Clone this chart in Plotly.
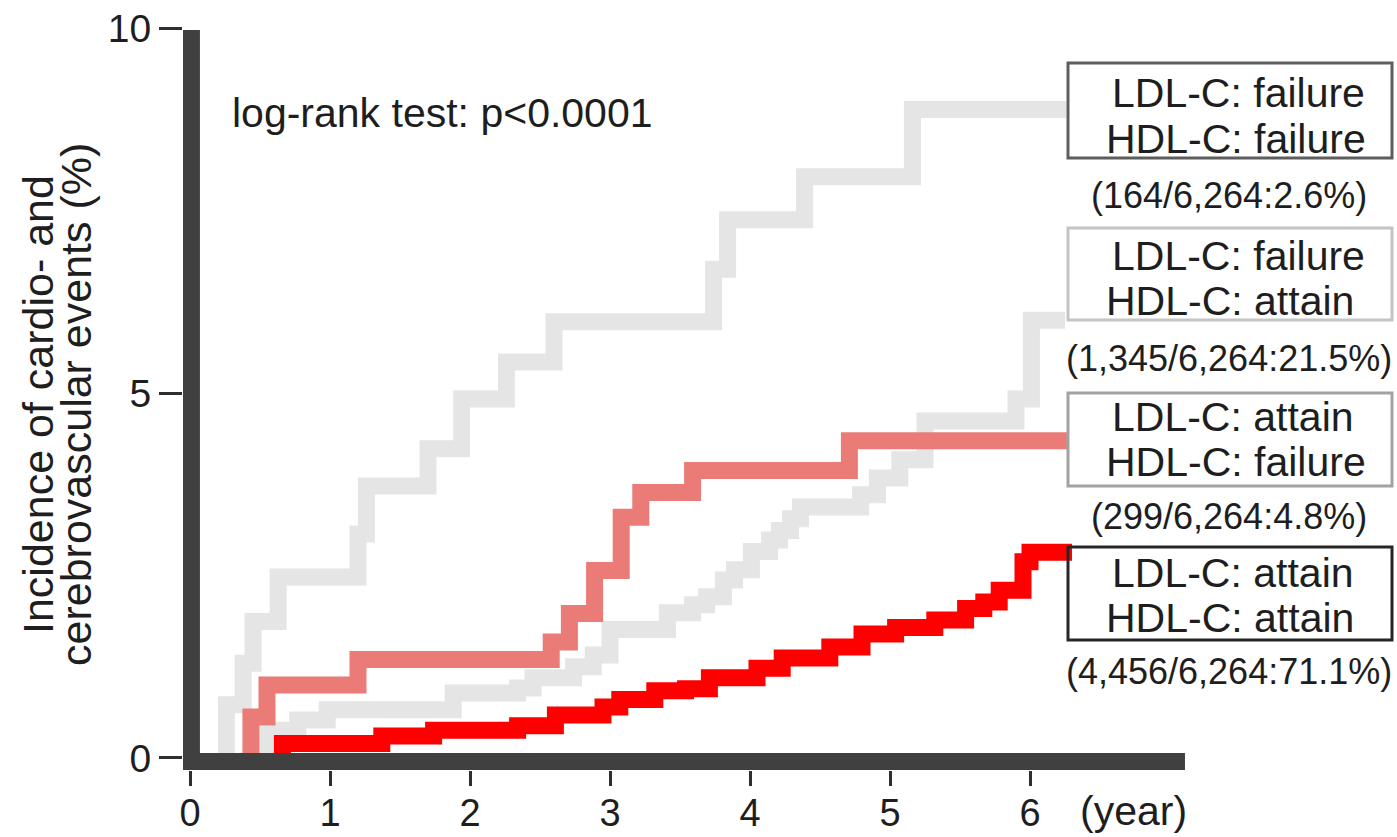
import plotly.graph_objects as go

# Cumulative incidence (%) of cardio- and cerebrovascular events by goal attainment.
# Each group: event times (years), cumulative incidence after each event, last follow-up time.
ff_times = [0.26, 0.38, 0.45, 0.63, 1.20, 1.26, 1.70, 1.94, 2.26, 2.60, 3.74, 3.84, 4.39, 5.16]
ff_inc = [0.73, 1.30, 1.87, 2.48, 3.07, 3.73, 4.24, 4.92, 5.43, 5.98, 6.70, 7.38, 7.97, 8.89]
ff_end = 6.26

fa_times = [0.55, 0.63, 0.77, 0.98, 1.88, 2.34, 2.45, 2.74, 2.88, 3.00, 3.41, 3.59, 3.69,
            3.81, 3.89, 4.01, 4.14, 4.21, 4.29, 4.36, 4.79, 4.91, 5.07, 5.25, 5.90, 6.01]
fa_inc = [0.33, 0.38, 0.52, 0.66, 0.89, 0.96, 1.10, 1.25, 1.41, 1.76, 1.99, 2.10, 2.21,
          2.44, 2.58, 2.83, 2.99, 3.12, 3.28, 3.44, 3.61, 3.84, 4.09, 4.62, 4.92, 6.00]
fa_end = 6.25

af_times = [0.435, 0.55, 1.20, 2.58, 2.71, 2.89, 3.08, 3.22, 3.59, 4.71]
af_inc = [0.56, 1.00, 1.35, 1.59, 1.98, 2.57, 3.30, 3.64, 3.94, 4.35]
af_end = 6.27

aa_times = [0.66, 1.37, 1.74, 2.34, 2.61, 2.95, 3.07, 3.32, 3.54, 3.71, 4.05, 4.23,
            4.57, 4.80, 5.04, 5.32, 5.54, 5.67, 5.78, 5.95, 6.00]
aa_inc = [0.20, 0.30, 0.38, 0.44, 0.59, 0.70, 0.80, 0.92, 0.95, 1.10, 1.23, 1.37,
          1.52, 1.70, 1.79, 1.89, 2.05, 2.14, 2.30, 2.69, 2.82]
aa_end = 6.30

group_lines = [
    ("LDL-C: failure", "HDL-C: failure", "(164/6,264:2.6%)"),
    ("LDL-C: failure", "HDL-C: attain", "(1,345/6,264:21.5%)"),
    ("LDL-C: attain", "HDL-C: failure", "(299/6,264:4.8%)"),
    ("LDL-C: attain", "HDL-C: attain", "(4,456/6,264:71.1%)"),
]

x_ticks = [0, 1, 2, 3, 4, 5, 6]
y_ticks = [0, 5, 10]

FONT = "Liberation Sans, Arial, sans-serif"
TXT = "#1e1e1e"
W, H = 1397, 837
ML, MR, MT, MB = 183, 206, 14, 67
PW, PH = W - ML - MR, H - MT - MB


def px(xp):
    return (xp - ML) / PW


def py(yp):
    return (MT + PH - yp) / PH


def step_path(times, inc, end):
    # vertical-then-horizontal steps starting from zero at the first event
    xs = list(times) + [end]
    ys = [0.0] + list(inc)
    return xs, ys


fig = go.Figure()
series = [
    (ff_times, ff_inc, ff_end, "#e5e5e5"),
    (fa_times, fa_inc, fa_end, "#e5e5e5"),
    (af_times, af_inc, af_end, "#ea7b77"),
    (aa_times, aa_inc, aa_end, "#ff0000"),
]
for t, inc, end, col in series:
    xs, ys = step_path(t, inc, end)
    fig.add_trace(go.Scatter(x=xs, y=ys, mode="lines",
                             line=dict(color=col, width=17, shape="vh"),
                             hoverinfo="skip", showlegend=False))

shapes = [
    # heavy axis bars
    dict(type="rect", xref="x", yref="y", x0=-0.05, x1=7.107, y0=-0.165, y1=0.069,
         fillcolor="#404040", line=dict(width=0), layer="above"),
    dict(type="rect", xref="x", yref="y", x0=-0.05, x1=0.071, y0=-0.165, y1=9.98,
         fillcolor="#404040", line=dict(width=0), layer="above"),
]

# group label boxes: (top, bottom, border colour)
boxes = [(63, 158, "#5e5e5e"), (228, 320, "#c4c4c4"), (393, 486, "#a2a2a2"), (547, 640, "#262626")]
for top, bot, col in boxes:
    shapes.append(dict(type="rect", xref="paper", yref="paper",
                       x0=px(1068), x1=px(1392), y0=py(bot), y1=py(top),
                       line=dict(color=col, width=3), fillcolor="rgba(0,0,0,0)", layer="above"))

annotations = []
line_y = [(93, 139, 195), (256, 301, 358), (417, 462, 516), (573, 618, 671)]
for (l1, l2, n), (y1, y2, y3) in zip(group_lines, line_y):
    annotations.append(dict(x=px(1110), y=py(y1), text=l1, xanchor="left", yanchor="middle"))
    annotations.append(dict(x=px(1104), y=py(y2), text=l2, xanchor="left", yanchor="middle"))
    annotations.append(dict(x=px(1229), y=py(y3), text=n, xanchor="center", yanchor="middle",
                            font=dict(family=FONT, size=36, color=TXT)))

annotations.append(dict(x=px(230), y=py(113), text="log-rank test: p&lt;0.0001",
                        xanchor="left", yanchor="middle"))
annotations.append(dict(x=px(1133), y=py(811), text="(year)", xanchor="center", yanchor="middle",
                        font=dict(family=FONT, size=41, color=TXT)))
annotations.append(dict(x=px(38), y=py(405), text="Incidence of cardio- and", textangle=-90,
                        xanchor="center", yanchor="middle",
                        font=dict(family=FONT, size=43, color=TXT)))
annotations.append(dict(x=px(76), y=py(405), text="cerebrovascular events (%)", textangle=-90,
                        xanchor="center", yanchor="middle",
                        font=dict(family=FONT, size=43, color=TXT)))

for a in annotations:
    a.setdefault("font", dict(family=FONT, size=41, color=TXT))
    a.update(xref="paper", yref="paper", showarrow=False)

fig.update_layout(
    width=W, height=H,
    margin=dict(l=ML, r=MR, t=MT, b=MB, pad=0, autoexpand=False),
    paper_bgcolor="white", plot_bgcolor="white",
    shapes=shapes, annotations=annotations,
    xaxis=dict(range=[-0.05, 7.15], tickvals=x_ticks, ticktext=[str(v) for v in x_ticks],
               ticks="outside", ticklen=15, tickwidth=3, tickcolor="#2e2e2e",
               ticklabelstandoff=-6,
               showgrid=False, zeroline=False, showline=False, fixedrange=True,
               automargin=False,
               tickfont=dict(family=FONT, size=38, color=TXT)),
    yaxis=dict(range=[-0.165, 10.2], tickvals=y_ticks, ticktext=[str(v) for v in y_ticks],
               ticks="outside", ticklen=23, tickwidth=3, tickcolor="#2e2e2e",
               showgrid=False, zeroline=False, showline=False, fixedrange=True,
               automargin=False,
               tickfont=dict(family=FONT, size=39, color=TXT)),
)

fig.write_html("out.html", config={"displayModeBar": False})
